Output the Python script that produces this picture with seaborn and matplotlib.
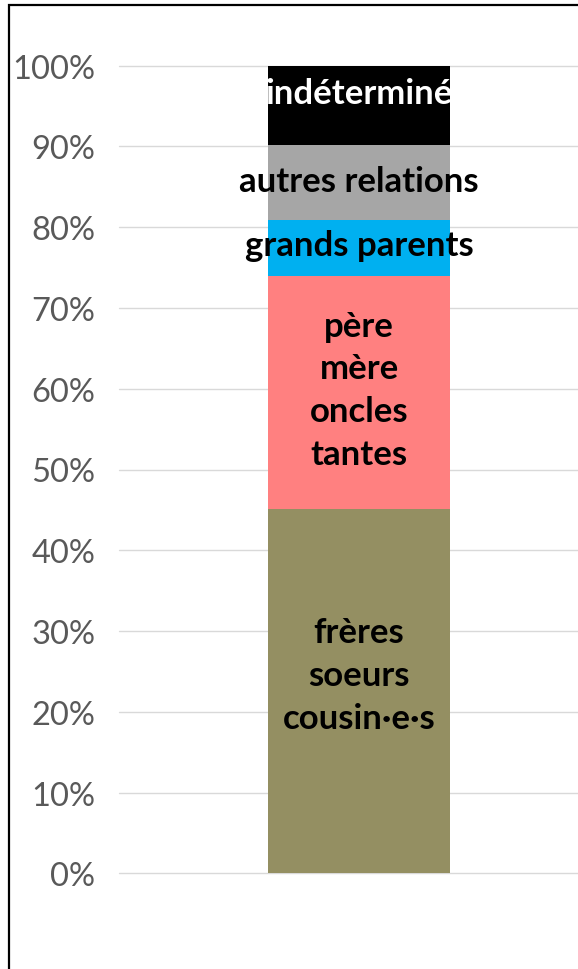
import numpy as np
import pandas as pd
import seaborn as sns
import matplotlib.pyplot as plt
from matplotlib.patches import Rectangle

# parts of the single bar, bottom to top (share, in %)
categories = ['frères\nsoeurs\ncousin·e·s', 'père\nmère\noncles\ntantes',
              'grands parents', 'autres relations', 'indéterminé']
values = [45.1, 28.9, 6.9, 9.3, 9.8]
colors = ['#948F62', '#FF8080', '#00B0F0', '#A6A6A6', '#000000']
text_colors = ['black', 'black', 'black', 'black', 'white']
yticks = [0, 10, 20, 30, 40, 50, 60, 70, 80, 90, 100]

sns.set_style('white')
plt.rcParams['font.family'] = ['Lato', 'DejaVu Sans']

fig = plt.figure(figsize=(5.78, 9.70), dpi=100)
ax = fig.add_axes([119/578, (970-874.3)/970, 480/578, 807.6/970])

df = pd.DataFrame({'group': ['all'] * len(values), 'part': categories,
                   'value': values})
df['top'] = df['value'].cumsum()
df['bottom'] = df['top'] - df['value']

# stacked look: draw cumulative heights, tallest first
for i in range(len(df) - 1, -1, -1):
    sns.barplot(x=['all'], y=[df['top'][i]], color=colors[i], width=0.379,
                saturation=1, linewidth=0, ax=ax, zorder=2)

# excel put some labels a bit above the middle of their part
nudge = [2.0, 0.3, 0.3, 0.2, 1.5]
for i, row in df.iterrows():
    ax.text(0, (row['bottom'] + row['top']) / 2 + nudge[i], row['part'],
            ha='center', va='center', fontsize=25, fontweight='bold',
            color=text_colors[i], linespacing=1.42, zorder=3)

ax.set_xlim(-0.5, 0.5)
ax.set_ylim(0, 100)
ax.set_yticks(yticks)
ax.set_yticklabels([f'{t}%' for t in yticks], fontsize=23.5, color='#595959')
ax.tick_params(axis='y', length=0, pad=17)
ax.set_xticks([])
ax.set_xlabel('')
ax.set_ylabel('')
ax.grid(axis='y', color='#D9D9D9', linewidth=1, zorder=0)
ax.set_axisbelow(True)
for line in ax.get_ygridlines():
    line.set_clip_on(False)
for s in ax.spines.values():
    s.set_visible(False)

# chart frame (only left and top edges are inside the picture)
fig.patches.append(Rectangle((8.5/578, -0.1), 1.2, (964.5/970) + 0.1,
                             transform=fig.transFigure, fill=False,
                             edgecolor='black', linewidth=1.6))

fig.savefig('out.png', dpi=100)
